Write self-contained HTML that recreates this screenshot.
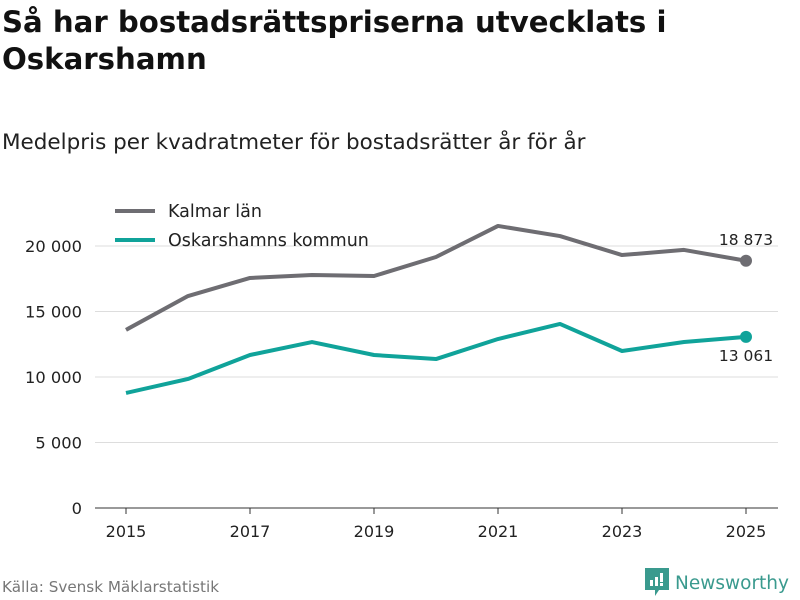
<!DOCTYPE html>
<html><head><meta charset="utf-8"><style>
body{margin:0;background:#fff;font-family:"DejaVu Sans","Liberation Sans",sans-serif;}
#wrap{position:relative;width:800px;height:600px;overflow:hidden}
h1{position:absolute;left:2px;top:4px;margin:0;font-size:29.2px;line-height:37px;font-weight:bold;color:#111;white-space:nowrap}
h2{position:absolute;left:2px;top:130px;margin:0;font-size:21.5px;font-weight:normal;color:#222;white-space:nowrap}
.src{position:absolute;left:2px;top:578px;font-size:15.2px;color:#777;white-space:nowrap}
.logo{position:absolute;left:645px;top:568px;font-size:18.5px;color:#3a9a8e;white-space:nowrap;width:160px}
</style></head><body><div id="wrap">
<h1>Så har bostadsrättspriserna utvecklats i<br>Oskarshamn</h1>
<h2>Medelpris per kvadratmeter för bostadsrätter år för år</h2>
<svg id="chart" width="800" height="600" style="position:absolute;left:0;top:0"></svg>
<div class="src">Källa: Svensk Mäklarstatistik</div>
<div class="logo"><svg width="24" height="28" style="vertical-align:-7px;margin-right:6px"><path d="M0 0H24V22H14L10 28V22H0Z" fill="#3a9a8e"/><rect x="5" y="12" width="3" height="6" fill="#fff"/><rect x="10" y="9" width="3" height="9" fill="#fff"/><rect x="15" y="5" width="3" height="9" fill="#fff"/><rect x="15" y="15" width="3" height="3" fill="#fff"/></svg>Newsworthy</div>
</div>
<script>
const years=[2015,2016,2017,2018,2019,2020,2021,2022,2023,2024,2025];
const kalmar=[13600,16180,17560,17790,17710,19160,21530,20760,19310,19700,18873];
const oskarshamn=[8780,9850,11680,12670,11680,11370,12900,14050,11985,12670,13061];
const yTicks=[0,5000,10000,15000,20000];
const xTicks=[2015,2017,2019,2021,2023,2025];
const NS="http://www.w3.org/2000/svg";
const svg=document.getElementById('chart');
const x=v=>126+(v-2015)*62;
const y=v=>508-v/20000*262;
const fmt=v=>v.toLocaleString('en').replace(/,/g,' ');
function mk(t,a){const e=document.createElementNS(NS,t);for(const k in a)e.setAttribute(k,a[k]);svg.appendChild(e);return e;}
yTicks.forEach(t=>{
 const l=mk('line',{x1:95,x2:778,y1:y(t),y2:y(t),stroke:t===0?'#333':'#ddd','stroke-width':1});
 
 
 const tx=mk('text',{x:82,y:y(t)+6,'text-anchor':'end','font-size':16.3,fill:'#222'});tx.textContent=fmt(t);
 
 
});
xTicks.forEach(t=>{
 const l=mk('line',{x1:x(t),x2:x(t),y1:508,y2:514,stroke:'#333'});
 
 
 const tx=mk('text',{x:x(t),y:537,'text-anchor':'middle','font-size':16,fill:'#222'});tx.textContent=t;
 
 
});
function series(vals,color,name,labelDy){
 const p=mk('polyline',{points:vals.map((v,i)=>x(years[i])+','+y(v)).join(' '),fill:'none',stroke:color,'stroke-width':4,'stroke-linejoin':'round'});
 
 
 const n=vals.length-1;
 const c=mk('circle',{cx:x(years[n]),cy:y(vals[n]),r:6,fill:color});
 
 
 const t=mk('text',{x:x(years[n]),y:y(vals[n])+labelDy,'text-anchor':'middle','font-size':15.5,fill:'#222'});t.textContent=fmt(vals[n]);
 
 
}
series(kalmar,'#6e6d72','kalmar',-16);
series(oskarshamn,'#10a39a','oskarshamn',24);
[['Kalmar län','#6e6d72',211],['Oskarshamns kommun','#10a39a',240]].forEach(([lab,col,yy])=>{
 const l=mk('line',{x1:115,x2:155,y1:yy,y2:yy,stroke:col,'stroke-width':4});
 
 
 const t=mk('text',{x:168,y:yy+6,'font-size':17.5,fill:'#222'});t.textContent=lab;
 
 
});
</script></body></html>
